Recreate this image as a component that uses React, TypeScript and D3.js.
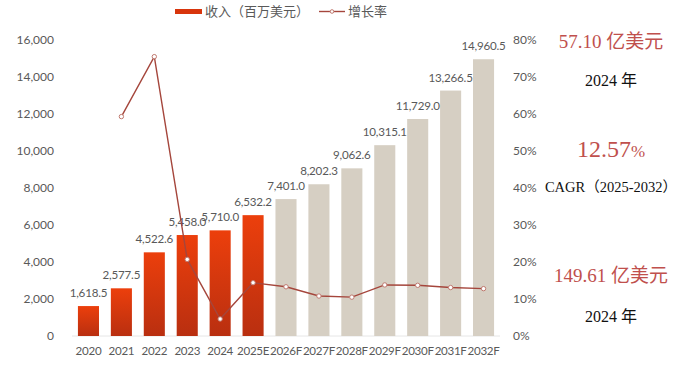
import { useEffect, useRef } from 'react';
import * as d3 from 'd3';

const years = ['2020', '2021', '2022', '2023', '2024', '2025E', '2026F', '2027F', '2028F', '2029F', '2030F', '2031F', '2032F'];
const revenue = [1618.5, 2577.5, 4522.6, 5458.0, 5710.0, 6532.2, 7401.0, 8202.3, 9062.6, 10315.1, 11729.0, 13266.5, 14960.5];
// growth rate (%) – first year has none
const growth = [null, 59.3, 75.5, 20.7, 4.6, 14.4, 13.3, 10.8, 10.5, 13.8, 13.7, 13.1, 12.8];
const leftTicks = [0, 2000, 4000, 6000, 8000, 10000, 12000, 14000, 16000];
const rightTicks = [0, 10, 20, 30, 40, 50, 60, 70, 80];
const forecastFrom = 6;

const App = () => {
  const svgRef = useRef<SVGSVGElement>(null);

  useEffect(() => {
    const width = 685;
    const height = 375;
    const margin = { top: 40, bottom: 39, left: 72, right: 185 };
    const numFont = 'Lato, "Open Sans", sans-serif';
    const cjkFont = '"Noto Sans CJK SC", sans-serif';
    const serif = '"Liberation Serif", "Noto Sans CJK SC", serif';
    const fs = '11.6px';

    const svg = d3.select(svgRef.current).attr('width', width).attr('height', height);
    svg.selectAll('*').remove();

    const x = d3
      .scaleBand()
      .domain(years)
      .range([margin.left, width - margin.right])
      .paddingInner(0.36)
      .paddingOuter(0.18);

    const y = d3.scaleLinear().domain([0, 16000]).range([height - margin.bottom, margin.top]);
    const y2 = d3.scaleLinear().domain([0, 80]).range([height - margin.bottom, margin.top]);

    const defs = svg.append('defs');
    const grad = defs
      .append('linearGradient')
      .attr('id', 'redGrad')
      .attr('x1', 0)
      .attr('y1', 0)
      .attr('x2', 0)
      .attr('y2', 1);
    grad.append('stop').attr('offset', '0%').attr('stop-color', '#ec3f0c');
    grad.append('stop').attr('offset', '100%').attr('stop-color', '#b92f10');

    // baseline
    svg
      .append('line')
      .attr('x1', margin.left)
      .attr('x2', width - margin.right)
      .attr('y1', y(0))
      .attr('y2', y(0))
      .attr('stroke', '#e6e6e6')
      .attr('stroke-width', 1);

    // bars
    svg
      .append('g')
      .selectAll('rect')
      .data(revenue)
      .join('rect')
      .attr('x', (d, i) => x(years[i]))
      .attr('y', (d) => y(d))
      .attr('width', x.bandwidth())
      .attr('height', (d) => y(0) - y(d))
      .attr('fill', (d, i) => (i < forecastFrom ? 'url(#redGrad)' : '#d6cfc3'));

    // value labels
    svg
      .append('g')
      .selectAll('text')
      .data(revenue)
      .join('text')
      .attr('x', (d, i) => x(years[i]) + x.bandwidth() / 2)
      .attr('y', (d) => y(d) - 9)
      .attr('text-anchor', 'middle')
      .attr('fill', '#595959')
      .style('font-family', numFont)
      .style('font-size', fs)
      .style('letter-spacing', '-0.2px')
      .text((d) => d3.format(',.1f')(d));

    // left axis
    const yAxis = svg
      .append('g')
      .attr('transform', `translate(${margin.left - 15},0)`)
      .call(d3.axisLeft(y).tickValues(leftTicks).tickSize(0).tickFormat(d3.format(',')));
    yAxis.select('.domain').remove();
    yAxis
      .selectAll('text')
      .attr('fill', '#595959')
      .style('font-family', numFont)
      .style('font-size', '12px');

    // right axis
    const y2Axis = svg
      .append('g')
      .attr('transform', `translate(${width - margin.right + 10},0)`)
      .call(d3.axisRight(y2).tickValues(rightTicks).tickSize(0).tickFormat((d) => `${d}%`));
    y2Axis.select('.domain').remove();
    y2Axis
      .selectAll('text')
      .attr('fill', '#595959')
      .style('font-family', numFont)
      .style('font-size', '12px');

    // x axis
    const xAxis = svg
      .append('g')
      .attr('transform', `translate(0,${y(0)})`)
      .call(d3.axisBottom(x).tickSize(0).tickPadding(11));
    xAxis.select('.domain').remove();
    xAxis
      .selectAll('text')
      .attr('fill', '#595959')
      .style('font-family', numFont)
      .style('font-size', fs)
      .style('letter-spacing', '-0.3px');

    // growth line
    const pts = growth
      .map((g, i) => ({ year: years[i], g }))
      .filter((d) => d.g !== null);
    const line = d3
      .line<{ year: string; g: number | null }>()
      .x((d) => x(d.year) + x.bandwidth() / 2)
      .y((d) => y2(d.g as number));

    svg
      .append('path')
      .datum(pts)
      .attr('d', line)
      .attr('fill', 'none')
      .attr('stroke', '#a5463c')
      .attr('stroke-width', 1.4);

    svg
      .append('g')
      .selectAll('circle')
      .data(pts)
      .join('circle')
      .attr('cx', (d) => x(d.year) + x.bandwidth() / 2)
      .attr('cy', (d) => y2(d.g as number))
      .attr('r', 2.2)
      .attr('fill', '#ffffff')
      .attr('stroke', '#c07a70')
      .attr('stroke-width', 1);

    // legend
    const lg = svg.append('g');
    lg.append('rect').attr('x', 175).attr('y', 9).attr('width', 27).attr('height', 5).attr('fill', '#d8350c');
    lg.append('text')
      .attr('x', 205)
      .attr('y', 16)
      .attr('fill', '#595959')
      .style('font-family', cjkFont)
      .style('font-size', '13px')
      .text('收入（百万美元）');
    lg.append('line')
      .attr('x1', 319)
      .attr('x2', 345)
      .attr('y1', 11.5)
      .attr('y2', 11.5)
      .attr('stroke', '#a5463c')
      .attr('stroke-width', 1.4);
    lg.append('circle').attr('cx', 332).attr('cy', 11.5).attr('r', 1.8).attr('fill', '#fff').attr('stroke', '#c07a70');
    lg.append('text')
      .attr('x', 348)
      .attr('y', 16)
      .attr('fill', '#595959')
      .style('font-family', cjkFont)
      .style('font-size', '13px')
      .text('增长率');

    // side notes
    const notes = [
      { t: '57.10 亿美元', pct: false, y: 48, size: 19, color: '#c0504d' },
      { t: '2024 年', pct: false, y: 86, size: 16, color: '#111' },
      { t: '12.57', pct: true, y: 157, size: 24, color: '#c0504d' },
      { t: 'CAGR（2025-2032）', pct: false, y: 192, size: 14.5, color: '#111' },
      { t: '149.61 亿美元', pct: false, y: 282, size: 19, color: '#c0504d' },
      { t: '2024 年', pct: false, y: 322, size: 16, color: '#111' },
    ];
    const nt = svg
      .append('g')
      .selectAll('text')
      .data(notes)
      .join('text')
      .attr('x', 611)
      .attr('y', (d) => d.y)
      .attr('text-anchor', 'middle')
      .attr('fill', (d) => d.color)
      .style('font-family', serif)
      .style('font-size', (d) => `${d.size}px`)
      .text((d) => d.t);
    nt.filter((d) => d.pct)
      .append('tspan')
      .style('font-size', '17px')
      .text('%');
  }, []);

  return (
    <div style={{ position: 'absolute', left: 0, top: 0 }}>
      <svg ref={svgRef} style={{ display: 'block', background: '#fff' }}></svg>
    </div>
  );
};

export default App;
